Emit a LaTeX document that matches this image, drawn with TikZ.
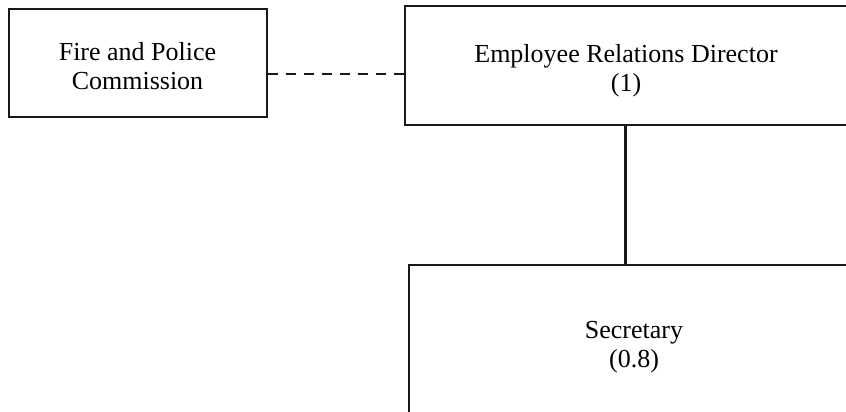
\documentclass[tikz,border=0pt]{standalone}
\usepackage{fontspec}
\setmainfont{Liberation Serif}
\begin{document}
\begin{tikzpicture}[x=1pt,y=-1pt,
  box/.style={draw=black!90, line width=2pt, rectangle, inner sep=0pt},
  label/.style={inner sep=0pt, align=center, anchor=base,
    font=\fontsize{26}{29}\selectfont},
  link/.style={draw=black!90, line width=2.2pt},
  dotlink/.style={link, dash pattern=on 10pt off 8pt}]
  \useasboundingbox (0,0) rectangle (846,412);
  \begin{scope}
    \clip (0,0) rectangle (846,412);
    % boxes
    \node[box, minimum width=258pt, minimum height=108pt] (fpc) at (137.5,63) {};
    \node[box, minimum width=475pt, minimum height=119pt] (erd) at (642.5,65.5) {};
    \node[box, minimum width=467pt, minimum height=180pt] (sec) at (642.5,355) {};
    % texts (base anchor sits on the last line)
    \node[label] (fpctext) at (137.5,89.5) {Fire and Police\\Commission};
    \node[label] (erdtext) at (626,92) {Employee Relations Director\\(1)};
    \node[label] (sectext) at (634,367) {Secretary\\(0.8)};
    % connectors
    \coordinate (dash) at (0,74);
    \coordinate (trunk) at (625.5,0);
    \draw[dotlink] (fpc.east |- dash) -- (erd.west |- dash);
    \draw[link] (erd.south -| trunk) -- (sec.north -| trunk);
  \end{scope}
\end{tikzpicture}
\end{document}
